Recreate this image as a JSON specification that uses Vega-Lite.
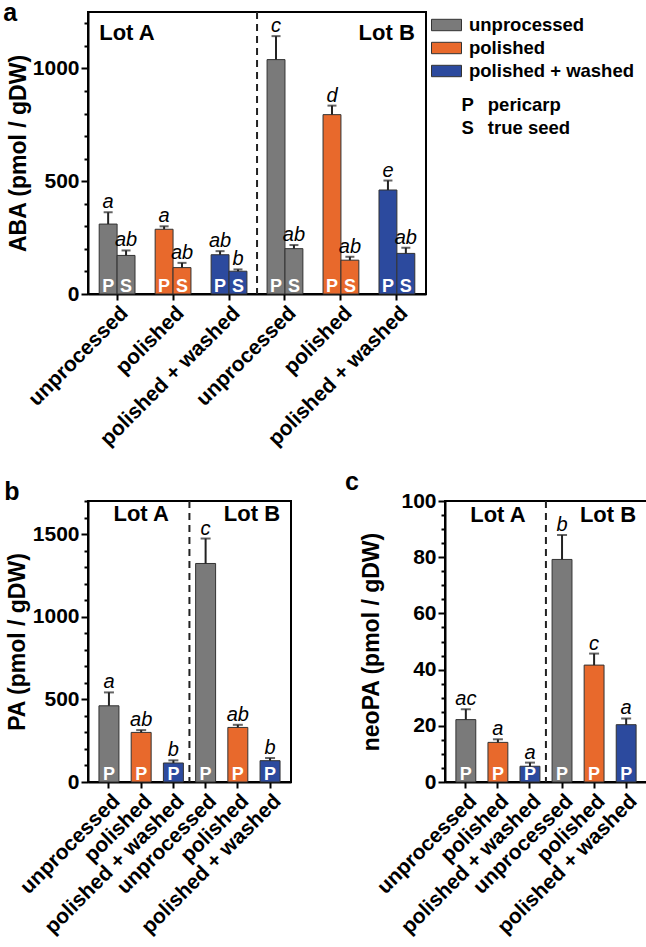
{
  "$schema": "https://vega.github.io/schema/vega-lite/v6.json",
  "padding": {"left": 2, "top": 0, "right": 2, "bottom": 2},
  "config": {
    "font": "Liberation Sans",
    "view": {"stroke": "black", "strokeWidth": 2},
    "axis": {"labelFont": "Liberation Sans", "titleFont": "Liberation Sans", "labelFontWeight": "bold", "titleFontWeight": "bold", "labelColor": "black", "titleColor": "black", "domainColor": "black", "tickColor": "black", "domainWidth": 2, "tickWidth": 2, "labelFontSize": 21, "titleFontSize": 23, "grid": false, "labelLimit": 0},
    "axisY": {"labelPadding": 2, "format": "d", "tickCount": 40, "labelOverlap": false},
    "axisX": {"tickSize": 6, "labelPadding": 2, "labelAngle": -45},
    "legend": {"labelFont": "Liberation Sans", "labelFontWeight": "bold", "labelFontSize": 18.5, "labelColor": "black", "labelLimit": 0},
    "title": {"font": "Liberation Sans", "fontWeight": "bold", "fontSize": 25, "color": "black"}
  },
  "datasets": {
    "aba": [
      {"group": "A|unprocessed", "treatment": "unprocessed", "part": "P", "value": 310, "hi": 362, "letter": "a"},
      {"group": "A|unprocessed", "treatment": "unprocessed", "part": "S", "value": 171, "hi": 193, "letter": "ab"},
      {"group": "A|polished", "treatment": "polished", "part": "P", "value": 287, "hi": 300, "letter": "a"},
      {"group": "A|polished", "treatment": "polished", "part": "S", "value": 117, "hi": 138, "letter": "ab"},
      {"group": "A|polished + washed", "treatment": "polished + washed", "part": "P", "value": 174, "hi": 190, "letter": "ab"},
      {"group": "A|polished + washed", "treatment": "polished + washed", "part": "S", "value": 101, "hi": 109, "letter": "b"},
      {"group": "B|unprocessed", "treatment": "unprocessed", "part": "P", "value": 1039, "hi": 1143, "letter": "c"},
      {"group": "B|unprocessed", "treatment": "unprocessed", "part": "S", "value": 201, "hi": 217, "letter": "ab"},
      {"group": "B|polished", "treatment": "polished", "part": "P", "value": 795, "hi": 835, "letter": "d"},
      {"group": "B|polished", "treatment": "polished", "part": "S", "value": 150, "hi": 165, "letter": "ab"},
      {"group": "B|polished + washed", "treatment": "polished + washed", "part": "P", "value": 461, "hi": 503, "letter": "e"},
      {"group": "B|polished + washed", "treatment": "polished + washed", "part": "S", "value": 180, "hi": 205, "letter": "ab"}
    ],
    "pa": [
      {"group": "A|unprocessed", "treatment": "unprocessed", "part": "P", "value": 461, "hi": 542, "letter": "a"},
      {"group": "A|polished", "treatment": "polished", "part": "P", "value": 300, "hi": 314, "letter": "ab"},
      {"group": "A|polished + washed", "treatment": "polished + washed", "part": "P", "value": 115, "hi": 131, "letter": "b"},
      {"group": "B|unprocessed", "treatment": "unprocessed", "part": "P", "value": 1322, "hi": 1473, "letter": "c"},
      {"group": "B|polished", "treatment": "polished", "part": "P", "value": 330, "hi": 346, "letter": "ab"},
      {"group": "B|polished + washed", "treatment": "polished + washed", "part": "P", "value": 129, "hi": 145, "letter": "b"}
    ],
    "neo": [
      {"group": "A|unprocessed", "treatment": "unprocessed", "part": "P", "value": 22.2, "hi": 25.9, "letter": "ac"},
      {"group": "A|polished", "treatment": "polished", "part": "P", "value": 14.1, "hi": 15.2, "letter": "a"},
      {"group": "A|polished + washed", "treatment": "polished + washed", "part": "P", "value": 5.6, "hi": 6.9, "letter": "a"},
      {"group": "B|unprocessed", "treatment": "unprocessed", "part": "P", "value": 79.2, "hi": 87.9, "letter": "b"},
      {"group": "B|polished", "treatment": "polished", "part": "P", "value": 41.6, "hi": 45.7, "letter": "c"},
      {"group": "B|polished + washed", "treatment": "polished + washed", "part": "P", "value": 20.4, "hi": 22.6, "letter": "a"}
    ]
  },
  "resolve": {"scale": {"color": "independent", "shape": "independent"}, "legend": {"color": "independent", "shape": "independent"}},
  "spacing": 18,
  "vconcat": [
    {
      "width": 338, "height": 282,
      "title": {"text": "a", "anchor": "start", "frame": "bounds", "baseline": "alphabetic", "offset": -35, "dx": -4},
      "encoding": {
        "x": {"field": "group", "type": "nominal", "sort": null,
          "scale": {"domain": ["A|unprocessed", "A|polished", "A|polished + washed", "B|unprocessed", "B|polished", "B|polished + washed"], "paddingInner": 0.36, "paddingOuter": 0.2},
          "axis": {"title": null, "labelExpr": "split(datum.label, '|')[1]"}}
      },
      "layer": [
        {"data": {"name": "aba"}, "mark": {"type": "bar", "stroke": "#333", "strokeWidth": 1},
          "encoding": {
            "xOffset": {"field": "part", "type": "nominal", "scale": {"domain": ["P", "S"], "paddingInner": 0, "paddingOuter": 0}},
            "y": {"field": "value", "type": "quantitative", "scale": {"domain": [0, 1250], "nice": false},
              "axis": {"title": "ABA (pmol / gDW)", "titlePadding": 2, "tickCount": 40, "values": [0, 100, 200, 300, 400, 500, 600, 700, 800, 900, 1000, 1100, 1200], "labelExpr": "datum.value % 500 === 0 ? datum.label : ''", "labelFontSize": {"condition": {"test": "datum.value % 500 === 0", "value": 21}, "value": 1}, "tickSize": {"condition": {"test": "datum.value % 500 === 0", "value": 7}, "value": 4}}},
            "color": {"field": "treatment", "type": "nominal", "scale": {"domain": ["unprocessed", "polished", "polished + washed"], "range": ["#7a7a7a", "#e8692c", "#2c4a9e"]},
              "legend": {"title": null, "orient": "right", "offset": 3, "padding": 2, "symbolType": "M-1,-0.38H1V0.38H-1Z", "symbolSize": 900, "symbolStrokeColor": "#333", "symbolStrokeWidth": 1, "symbolOpacity": 1, "clipHeight": 22, "rowPadding": 1, "labelOffset": 7}}
          }},
        {"data": {"name": "aba"}, "mark": {"type": "rule", "color": "#222", "strokeWidth": 2},
          "encoding": {
            "xOffset": {"field": "part", "type": "nominal", "scale": {"domain": ["P", "S"], "paddingInner": 0, "paddingOuter": 0}},
            "y": {"field": "value", "type": "quantitative"}, "y2": {"field": "hi"}}},
        {"data": {"name": "aba"}, "mark": {"type": "tick", "color": "#222", "thickness": 2, "size": 9},
          "encoding": {
            "xOffset": {"field": "part", "type": "nominal", "scale": {"domain": ["P", "S"], "paddingInner": 0, "paddingOuter": 0}},
            "y": {"field": "hi", "type": "quantitative"}}},
        {"data": {"name": "aba"}, "mark": {"type": "text", "fontStyle": "italic", "fontSize": 20, "dy": -4, "baseline": "alphabetic", "color": "black"},
          "encoding": {
            "xOffset": {"field": "part", "type": "nominal", "scale": {"domain": ["P", "S"], "paddingInner": 0, "paddingOuter": 0}},
            "y": {"field": "hi", "type": "quantitative"}, "text": {"field": "letter"}}},
        {"data": {"name": "aba"}, "mark": {"type": "text", "color": "white", "fontWeight": "bold", "fontSize": 18, "dy": -2, "baseline": "alphabetic"},
          "encoding": {
            "xOffset": {"field": "part", "type": "nominal", "scale": {"domain": ["P", "S"], "paddingInner": 0, "paddingOuter": 0}},
            "y": {"datum": 0, "type": "quantitative"}, "text": {"field": "part"}}},
        {"data": {"values": [{"group": "A|unprocessed", "key": "P\u00a0\u00a0\u2009pericarp"}, {"group": "A|unprocessed", "key": "S\u00a0\u00a0\u2009true seed"}]},
          "mark": {"type": "point", "opacity": 0},
          "encoding": {
            "y": {"datum": 0, "type": "quantitative"},
            "shape": {"field": "key", "type": "nominal", "sort": null, "legend": {"title": null, "orient": "right", "offset": 3, "padding": 2, "symbolSize": 1, "symbolOpacity": 0, "symbolStrokeWidth": 0, "clipHeight": 22, "rowPadding": 1, "labelOffset": 12}}}},
        {"data": {"values": [{"group": "B|unprocessed"}]}, "mark": {"type": "rule", "strokeDash": [7, 5], "strokeWidth": 2, "color": "#222"},
          "encoding": {"x": {"field": "group", "type": "nominal", "sort": null, "bandPosition": -0.28, "scale": {"domain": ["A|unprocessed", "A|polished", "A|polished + washed", "B|unprocessed", "B|polished", "B|polished + washed"]}}}},
        {"data": {"values": [{"group": "A|unprocessed", "lot": "Lot A", "value": 1125}]}, "mark": {"type": "text", "fontWeight": "bold", "fontSize": 22, "align": "left", "baseline": "alphabetic", "color": "black"},
          "encoding": {"x": {"field": "group", "type": "nominal", "sort": null, "bandPosition": 0, "scale": {"domain": ["A|unprocessed", "A|polished", "A|polished + washed", "B|unprocessed", "B|polished", "B|polished + washed"]}},
            "y": {"field": "value", "type": "quantitative"}, "text": {"field": "lot"}}},
        {"data": {"values": [{"group": "B|polished + washed", "lot": "Lot B", "value": 1125}]}, "mark": {"type": "text", "fontWeight": "bold", "fontSize": 22, "align": "right", "baseline": "alphabetic", "color": "black"},
          "encoding": {"x": {"field": "group", "type": "nominal", "sort": null, "bandPosition": 1, "scale": {"domain": ["A|unprocessed", "A|polished", "A|polished + washed", "B|unprocessed", "B|polished", "B|polished + washed"]}},
            "y": {"field": "value", "type": "quantitative"}, "text": {"field": "lot"}}}
      ]
    },
    {
      "spacing": 51,
      "hconcat": [
        {
          "width": 203, "height": 281,
          "title": {"text": "b", "anchor": "start", "frame": "bounds", "baseline": "alphabetic", "offset": -25, "dx": -2},
          "encoding": {
            "x": {"field": "group", "type": "nominal", "sort": null,
              "scale": {"domain": ["A|unprocessed", "A|polished", "A|polished + washed", "B|unprocessed", "B|polished", "B|polished + washed"], "paddingInner": 0.38, "paddingOuter": 0.34},
              "axis": {"title": null, "labelExpr": "split(datum.label, '|')[1]"}}
          },
          "layer": [
            {"data": {"name": "pa"}, "mark": {"type": "bar", "stroke": "#333", "strokeWidth": 1},
              "encoding": {
                "y": {"field": "value", "type": "quantitative", "scale": {"domain": [0, 1700], "nice": false},
                  "axis": {"title": "PA (pmol / gDW)", "titlePadding": 3, "tickCount": 40, "values": [0, 100, 200, 300, 400, 500, 600, 700, 800, 900, 1000, 1100, 1200, 1300, 1400, 1500, 1600, 1700], "labelExpr": "datum.value % 500 === 0 ? datum.label : ''", "labelFontSize": {"condition": {"test": "datum.value % 500 === 0", "value": 21}, "value": 1}, "tickSize": {"condition": {"test": "datum.value % 500 === 0", "value": 7}, "value": 4}}},
                "color": {"field": "treatment", "type": "nominal", "scale": {"domain": ["unprocessed", "polished", "polished + washed"], "range": ["#7a7a7a", "#e8692c", "#2c4a9e"]}, "legend": null}
              }},
            {"data": {"name": "pa"}, "mark": {"type": "rule", "color": "#222", "strokeWidth": 2},
              "encoding": {"y": {"field": "value", "type": "quantitative"}, "y2": {"field": "hi"}}},
            {"data": {"name": "pa"}, "mark": {"type": "tick", "color": "#222", "thickness": 2, "size": 10},
              "encoding": {"y": {"field": "hi", "type": "quantitative"}}},
            {"data": {"name": "pa"}, "mark": {"type": "text", "fontStyle": "italic", "fontSize": 20, "dy": -4, "baseline": "alphabetic", "color": "black"},
              "encoding": {"y": {"field": "hi", "type": "quantitative"}, "text": {"field": "letter"}}},
            {"data": {"name": "pa"}, "mark": {"type": "text", "color": "white", "fontWeight": "bold", "fontSize": 18, "dy": -2, "baseline": "alphabetic"},
              "encoding": {"y": {"datum": 0, "type": "quantitative"}, "text": {"field": "part"}}},
            {"data": {"values": [{"group": "B|unprocessed"}]}, "mark": {"type": "rule", "strokeDash": [7, 5], "strokeWidth": 2, "color": "#222"},
              "encoding": {"x": {"field": "group", "type": "nominal", "sort": null, "bandPosition": -0.31, "scale": {"domain": ["A|unprocessed", "A|polished", "A|polished + washed", "B|unprocessed", "B|polished", "B|polished + washed"]}}}},
            {"data": {"values": [{"group": "A|polished", "lot": "Lot A", "value": 1580}]}, "mark": {"type": "text", "fontWeight": "bold", "fontSize": 22, "align": "center", "baseline": "alphabetic", "color": "black"},
              "encoding": {"y": {"field": "value", "type": "quantitative"}, "text": {"field": "lot"}}},
            {"data": {"values": [{"group": "B|polished + washed", "lot": "Lot B", "value": 1580}]}, "mark": {"type": "text", "fontWeight": "bold", "fontSize": 22, "align": "right", "baseline": "alphabetic", "color": "black"},
              "encoding": {"x": {"field": "group", "type": "nominal", "sort": null, "bandPosition": 1, "scale": {"domain": ["A|unprocessed", "A|polished", "A|polished + washed", "B|unprocessed", "B|polished", "B|polished + washed"]}},
                "y": {"field": "value", "type": "quantitative"}, "text": {"field": "lot"}}}
          ]
        },
        {
          "width": 202, "height": 281,
          "title": {"text": "c", "anchor": "start", "frame": "bounds", "baseline": "alphabetic", "offset": -25, "dx": -16},
          "encoding": {
            "x": {"field": "group", "type": "nominal", "sort": null,
              "scale": {"domain": ["A|unprocessed", "A|polished", "A|polished + washed", "B|unprocessed", "B|polished", "B|polished + washed"], "paddingInner": 0.38, "paddingOuter": 0.34},
              "axis": {"title": null, "labelExpr": "split(datum.label, '|')[1]"}}
          },
          "layer": [
            {"data": {"name": "neo"}, "mark": {"type": "bar", "stroke": "#333", "strokeWidth": 1},
              "encoding": {
                "y": {"field": "value", "type": "quantitative", "scale": {"domain": [0, 100], "nice": false},
                  "axis": {"title": "neoPA (pmol / gDW)", "titlePadding": 17, "tickCount": 40, "values": [0, 5, 10, 15, 20, 25, 30, 35, 40, 45, 50, 55, 60, 65, 70, 75, 80, 85, 90, 95, 100], "labelExpr": "datum.value % 20 === 0 ? datum.label : ''", "labelFontSize": {"condition": {"test": "datum.value % 20 === 0", "value": 21}, "value": 1}, "tickSize": {"condition": {"test": "datum.value % 20 === 0", "value": 7}, "value": 4}}},
                "color": {"field": "treatment", "type": "nominal", "scale": {"domain": ["unprocessed", "polished", "polished + washed"], "range": ["#7a7a7a", "#e8692c", "#2c4a9e"]}, "legend": null}
              }},
            {"data": {"name": "neo"}, "mark": {"type": "rule", "color": "#222", "strokeWidth": 2},
              "encoding": {"y": {"field": "value", "type": "quantitative"}, "y2": {"field": "hi"}}},
            {"data": {"name": "neo"}, "mark": {"type": "tick", "color": "#222", "thickness": 2, "size": 10},
              "encoding": {"y": {"field": "hi", "type": "quantitative"}}},
            {"data": {"name": "neo"}, "mark": {"type": "text", "fontStyle": "italic", "fontSize": 20, "dy": -4, "baseline": "alphabetic", "color": "black"},
              "encoding": {"y": {"field": "hi", "type": "quantitative"}, "text": {"field": "letter"}}},
            {"data": {"name": "neo"}, "mark": {"type": "text", "color": "white", "fontWeight": "bold", "fontSize": 18, "dy": -2, "baseline": "alphabetic"},
              "encoding": {"y": {"datum": 0, "type": "quantitative"}, "text": {"field": "part"}}},
            {"data": {"values": [{"group": "B|unprocessed"}]}, "mark": {"type": "rule", "strokeDash": [7, 5], "strokeWidth": 2, "color": "#222"},
              "encoding": {"x": {"field": "group", "type": "nominal", "sort": null, "bandPosition": -0.31, "scale": {"domain": ["A|unprocessed", "A|polished", "A|polished + washed", "B|unprocessed", "B|polished", "B|polished + washed"]}}}},
            {"data": {"values": [{"group": "A|polished", "lot": "Lot A", "value": 92.6}]}, "mark": {"type": "text", "fontWeight": "bold", "fontSize": 22, "align": "center", "baseline": "alphabetic", "color": "black"},
              "encoding": {"y": {"field": "value", "type": "quantitative"}, "text": {"field": "lot"}}},
            {"data": {"values": [{"group": "B|polished + washed", "lot": "Lot B", "value": 92.6}]}, "mark": {"type": "text", "fontWeight": "bold", "fontSize": 22, "align": "right", "baseline": "alphabetic", "color": "black"},
              "encoding": {"x": {"field": "group", "type": "nominal", "sort": null, "bandPosition": 1, "scale": {"domain": ["A|unprocessed", "A|polished", "A|polished + washed", "B|unprocessed", "B|polished", "B|polished + washed"]}},
                "y": {"field": "value", "type": "quantitative"}, "text": {"field": "lot"}}}
          ]
        }
      ]
    }
  ]
}
